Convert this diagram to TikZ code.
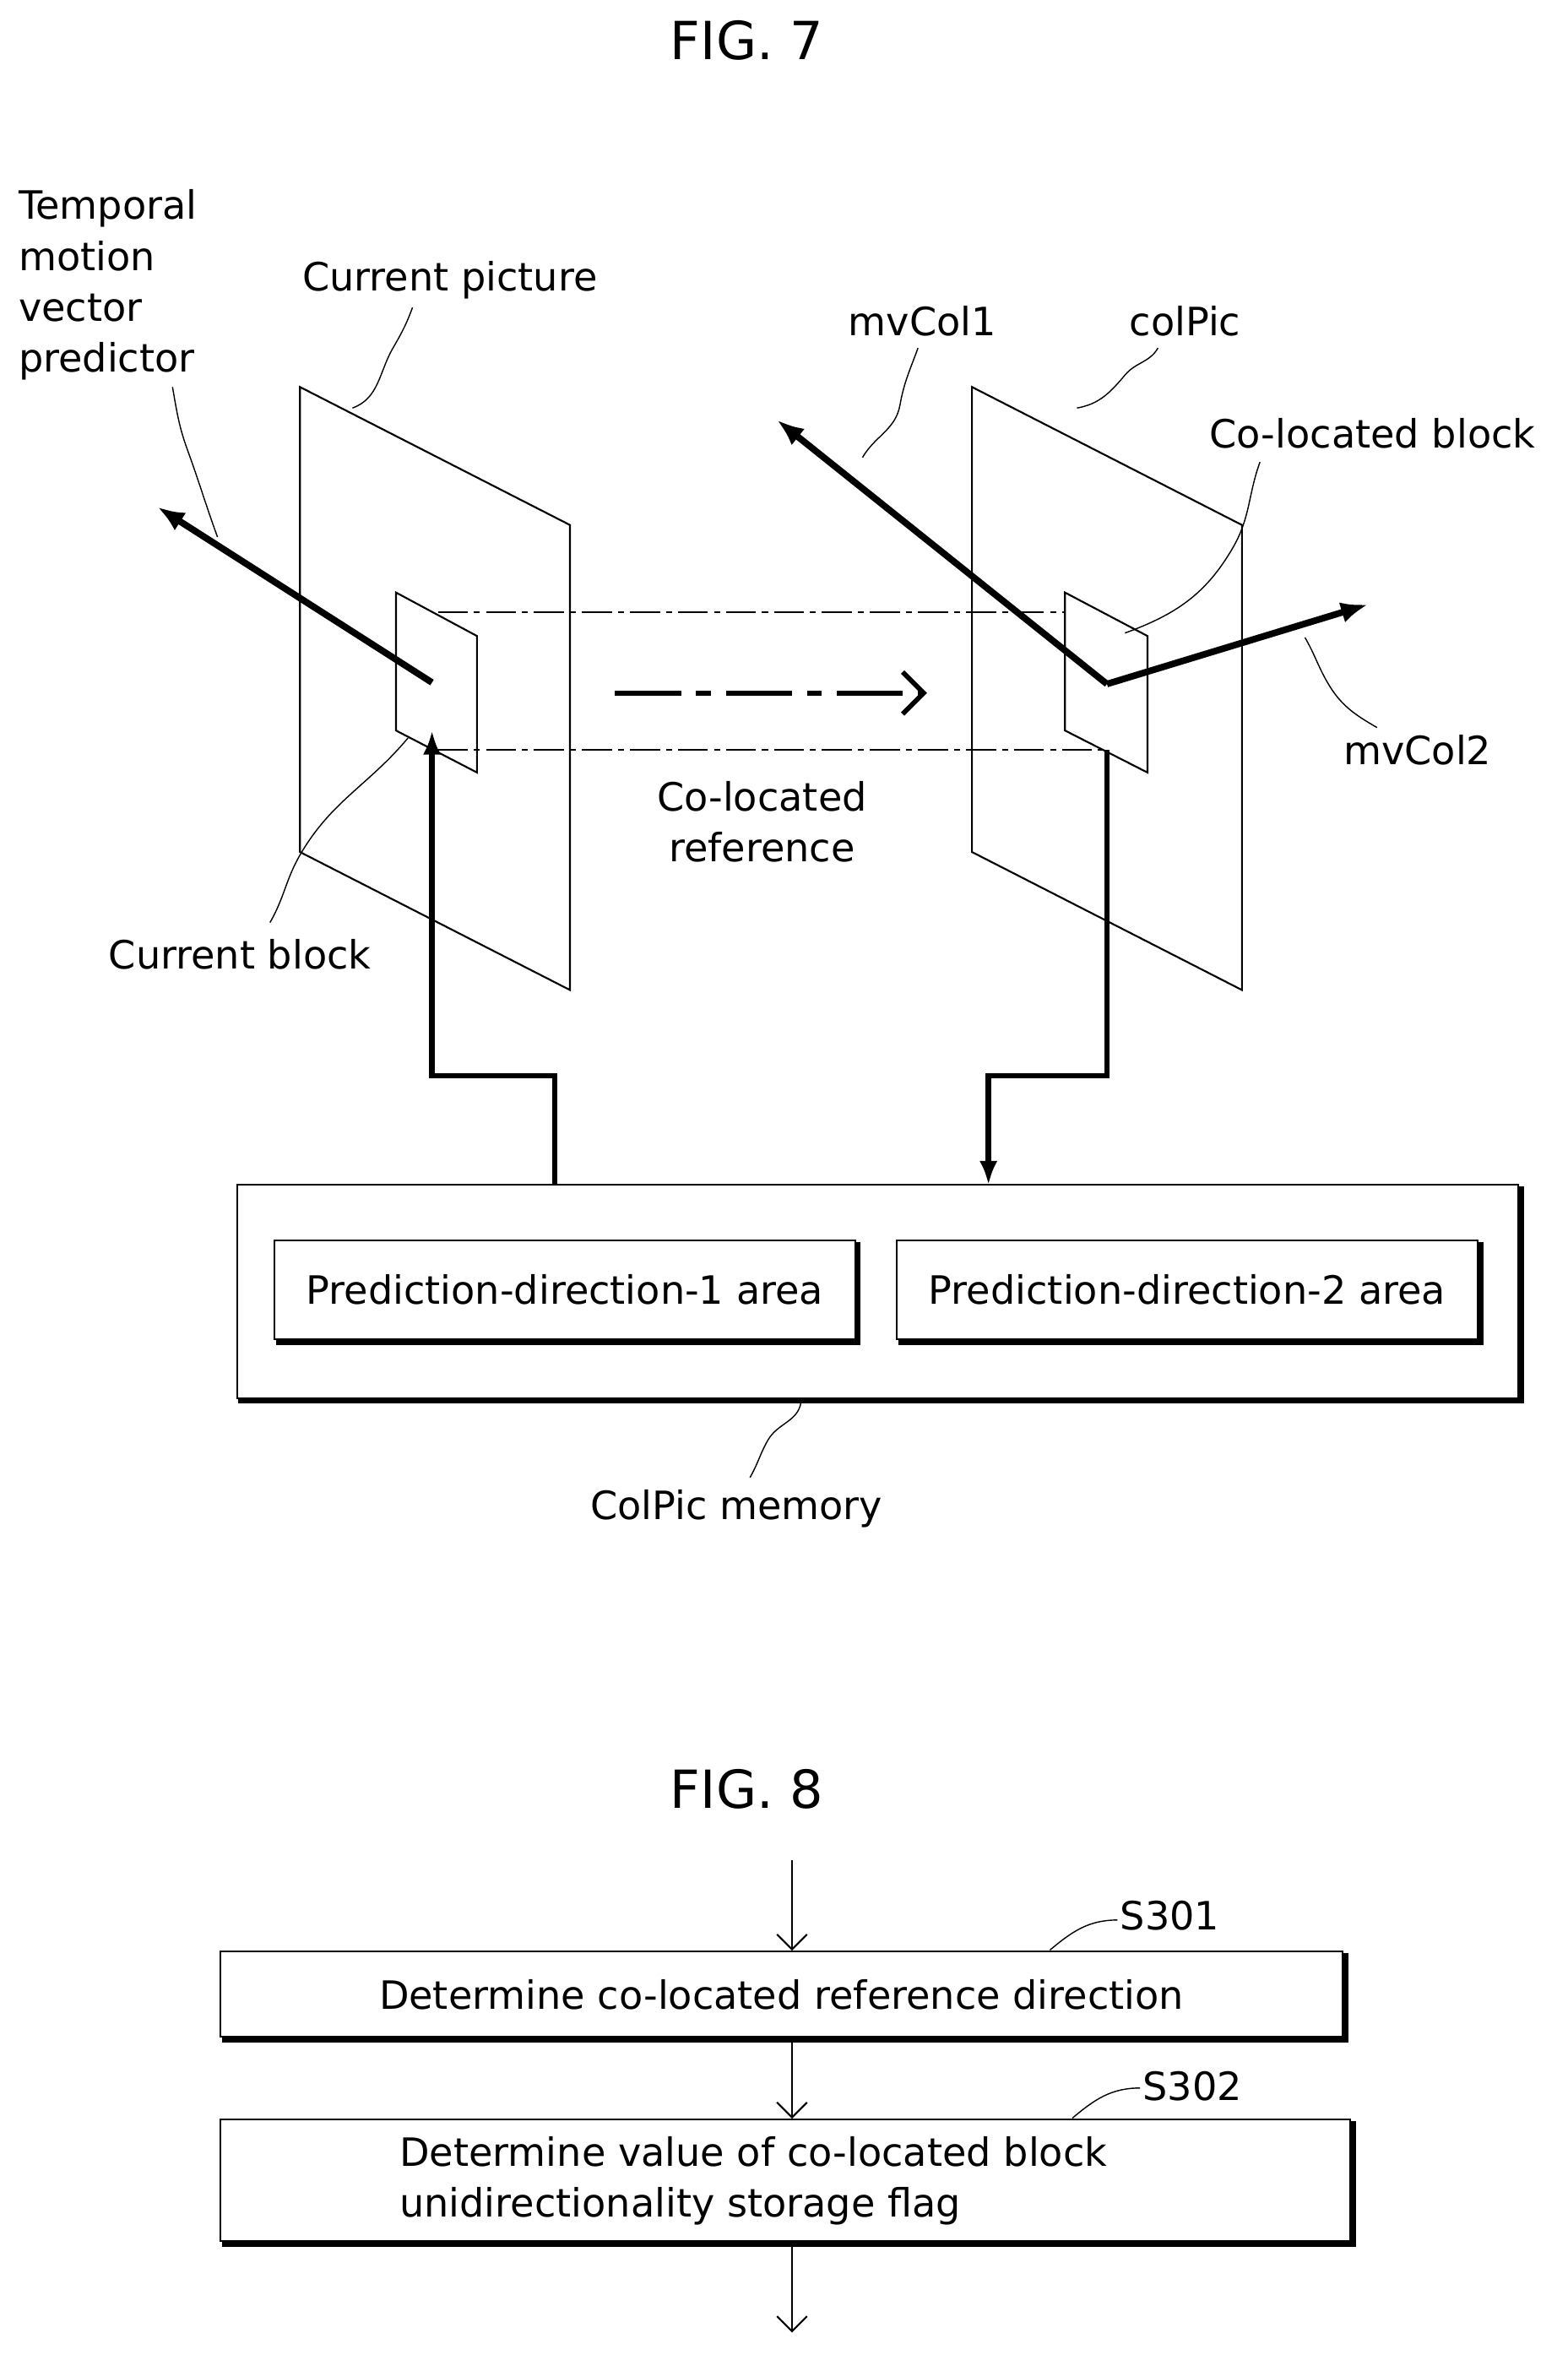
\documentclass[tikz,border=0pt]{standalone}
\usepackage{fontspec}
\setmainfont{DejaVu Sans}
\usetikzlibrary{positioning,arrows.meta}
\tikzset{
  plane/.style={draw, line width=0.6pt},
  mv/.style={line width=2.2pt, -{Latex[length=9pt,width=7pt]}},
  feed/.style={line width=1.8pt, -{Latex[length=8pt,width=6pt]}},
  leader/.style={line width=0.4pt},
  dashdot/.style={line width=0.6pt, dash pattern=on 10pt off 2pt on 2pt off 2pt},
  box/.style={draw, line width=0.6pt, rectangle, inner sep=0pt},
  flow/.style={line width=0.6pt, -{Straight Barb[length=5pt]}},
  lbl/.style={inner sep=1pt, font=\fontsize{13}{17}\selectfont}
}
\newcommand{\shadowit}[1]{%
  \draw[line width=1.6pt] ([xshift=0.8pt,yshift=-0.8pt]#1.north east) -- ([xshift=0.8pt,yshift=-0.8pt]#1.south east) -- ([xshift=0.8pt,yshift=-0.8pt]#1.south west);}
\begin{document}
\begin{tikzpicture}[x=0.5pt,y=-0.5pt]
		\useasboundingbox (0,0) rectangle (1045,1570);

		% figure titles
		\node[font=\fontsize{17.5}{20}\selectfont] (fig7) at (498,27) {FIG. 7};
		\node[font=\fontsize{17.5}{20}\selectfont] (fig8) at (498,1193) {FIG. 8};

		% current picture
		\draw[plane] (200,258) coordinate (cp1) -- (380,350) -- (380,660) -- (200,568) -- cycle;
		\draw[plane] (264,395) coordinate (cb1) -- (318,424) -- (318,515) -- (264,487) coordinate (cb4) -- cycle;
		\coordinate (cbc) at (288,455);
		\coordinate (tmvp) at (105,338);
		\draw[mv] (cbc) -- (tmvp);

		% colPic
		\draw[plane] (648,258) coordinate (col1) -- (828,350) -- (828,660) -- (648,568) -- cycle;
		\draw[plane] (710,395) -- (765,424) -- (765,515) -- (710,487) -- cycle;
		\coordinate (colc) at (738,456);
		\coordinate (mv1) at (518,280);
		\coordinate (mv2) at (912,403);
		\draw[mv] (colc) -- (mv1);
		\draw[mv] (colc) -- (mv2);

		% co-located reference
		\coordinate (reftl) at (292,408);
		\coordinate (reftr) at (710,408);
		\coordinate (refbl) at (292,500);
		\coordinate (refbr) at (738,500);
		\draw[dashdot] (reftl) -- (reftr);
		\draw[dashdot] (refbl) -- (refbr);
		\coordinate (refa) at (410,462);
		\coordinate (refb) at (618,462);
		\draw[line width=1.6pt, dash pattern=on 22pt off 5pt on 5pt off 5pt, -{Straight Barb[length=7pt]}] (refa) -- (refb);

		% labels
		\node[lbl, align=left, anchor=north west] (ltmvp) at (10,124) {Temporal\\motion\\vector\\predictor};
		\node[lbl] (lcp) at (300,187) {Current picture};
		\node[lbl] (lcb) at (160,636) {Current block};
		\node[lbl] (lmv1) at (615,214) {mvCol1};
		\node[lbl] (lcol) at (790,214) {colPic};
		\node[lbl] (lclb) at (915,289) {Co-located block};
		\node[lbl] (lmv2) at (945,500) {mvCol2};
		\node[lbl, align=center] (lref) at (508,548) {Co-located\\reference};

		% leaders
		\draw[leader] (145,358) to[out=110,in=-70] (125,300) to[out=110,in=-80] (115,258);
		\draw[leader] (235,272) to[out=20,in=-120] (262,232) to[out=60,in=-110] (275,205);
		\draw[leader] (272,492) to[out=-130,in=60] (200,570) to[out=-120,in=60] (180,615);
		\draw[leader] (575,305) to[out=60,in=-100] (600,270) to[out=80,in=-110] (612,232);
		\draw[leader] (718,272) to[out=10,in=-130] (750,250) to[out=50,in=-120] (772,232);
		\draw[leader] (750,422) to[out=20,in=-120] (822,365) to[out=60,in=-110] (840,308);
		\draw[leader] (870,425) to[out=-60,in=120] (885,455) to[out=-60,in=150] (918,485);
		\draw[leader] (534,935) to[out=-100,in=60] (512,960) to[out=-120,in=60] (500,985);
		\draw[leader] (700,1300) to[out=40,in=180] (745,1280);
		\draw[leader] (715,1412) to[out=40,in=180] (760,1392);

		% ColPic memory
		\node[box, minimum width=427pt, minimum height=71pt] (mem) at (585,861) {};
		\shadowit{mem}
		\node[box, minimum width=193.5pt, minimum height=33pt, font=\fontsize{13}{15}\selectfont] (dir1) at (376.5,860) {Prediction-direction-1 area};
		\shadowit{dir1}
		\node[box, minimum width=193.5pt, minimum height=33pt, font=\fontsize{13}{15}\selectfont] (dir2) at (791.5,860) {Prediction-direction-2 area};
		\shadowit{dir2}
		\node[lbl] (lmem) at (491,1006) {ColPic memory};

		% memory feeds
		\coordinate (in1) at (370,790);
		\draw[feed] (in1) -- (370,717) -- (288,717) -- (cbc |- cb4);
		\coordinate (out2) at (659,790);
		\draw[feed] (refbr) -- (738,717) -- (659,717) -- (out2);

		% flowchart
		\node[box, minimum width=374pt, minimum height=28.5pt, font=\fontsize{13}{15}\selectfont] (s301) at (521,1329.5) {Determine co-located reference direction};
		\shadowit{s301}
		\node[box, minimum width=376.5pt, minimum height=40.5pt] (s302) at (523.5,1453.5) {};
		\shadowit{s302}
		\node[lbl, align=left, anchor=west] (t302) at (264,1454) {Determine value of co-located block\\unidirectionality storage flag};
		\node[lbl] (l301) at (780,1277) {S301};
		\node[lbl] (l302) at (795,1391) {S302};
		\coordinate (fin) at (528,1240);
		\coordinate (fout) at (528,1555);
		\draw[flow] (fin) -- (fin |- s301.north);
		\draw[flow] (fin |- s301.south) -- (fin |- s302.north);
		\draw[flow] (fin |- s302.south) -- (fout);
\end{tikzpicture}
\end{document}
